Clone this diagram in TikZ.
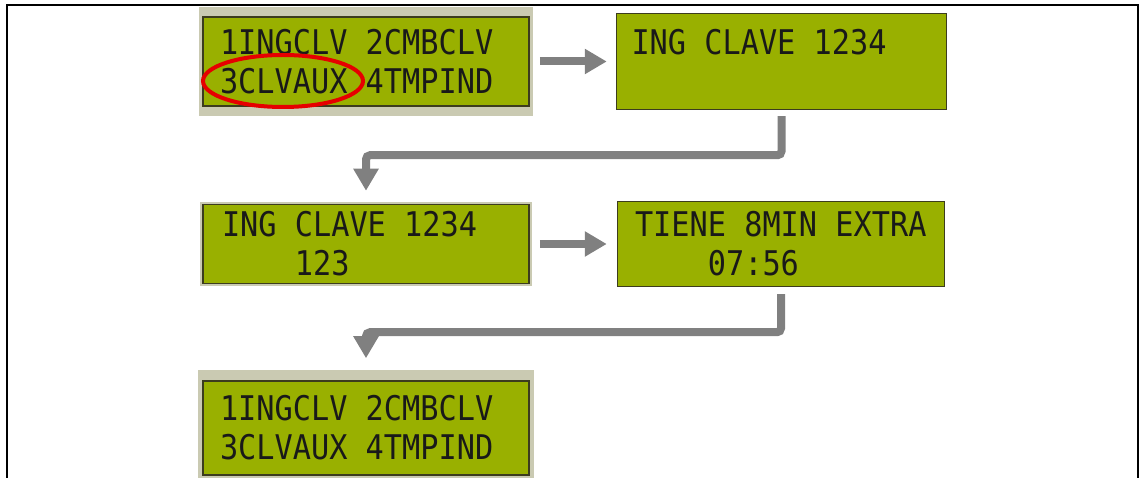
\documentclass[tikz,border=0pt]{standalone}
\usepackage{fontspec}
\newfontfamily\lcdfont[FakeStretch=0.89]{DejaVu Sans Mono}
\usetikzlibrary{shapes,arrows.meta,positioning,fit,backgrounds}
\definecolor{lcdgreen}{RGB}{153,176,0}
\definecolor{lcdedge}{RGB}{60,60,30}
\definecolor{bezelgray}{RGB}{202,202,178}
\definecolor{arrowgray}{RGB}{128,128,128}
\definecolor{markred}{RGB}{230,0,0}
\newcommand{\lcdsp}{\phantom{0}}

\begin{document}
\begin{tikzpicture}[
    x=1pt, y=1pt,
    lcd/.style={rectangle, draw=lcdedge, fill=lcdgreen, line width=1.5pt, text width=292pt, inner xsep=17pt, inner ysep=0pt, align=left, font=\lcdfont\fontsize{34}{39}\selectfont, text=black!90},
    bezel/.style={rectangle, fill=bezelgray, inner sep=0pt},
    circled/.style={ellipse, draw=markred, line width=4pt, inner sep=0pt},
    line/.style={draw=arrowgray, line width=8pt, -{Triangle[width=24pt, length=22pt]}}
]
\useasboundingbox (0,0) rectangle (1141,-478);
\draw [line width=2pt] (7,-485) -- (7,-5) -- (1138,-5) -- (1138,-485);

\node [lcd, minimum height=89pt] at (366,-61.5) (menu) {1INGCLV\lcdsp2CMBCLV\\3CLVAUX\lcdsp4TMPIND};
\node [lcd, minimum height=96pt, text width=300pt, inner xsep=15pt, right=86pt of menu] (clave) {ING\lcdsp CLAVE\lcdsp1234\\\lcdsp};
\node [lcd, minimum height=79pt, inner xsep=19pt, text width=288pt, below=97pt of menu] (clave123) {ING\lcdsp CLAVE\lcdsp1234\\\lcdsp\lcdsp\lcdsp\lcdsp123};
\node [lcd, minimum height=85pt, minimum width=327pt, right=87pt of clave123] (extra) {TIENE\lcdsp8MIN\lcdsp EXTRA\\\lcdsp\lcdsp\lcdsp\lcdsp07:56};
\node [lcd, minimum height=94pt, below=96pt of clave123] (menuback) {1INGCLV\lcdsp2CMBCLV\\3CLVAUX\lcdsp4TMPIND};

% bezels behind the displays
\begin{scope}[on background layer]
\node [bezel, fit=(menu), inner xsep=3pt, inner ysep=9pt] (menubez) {};
\node [bezel, fit=(clave123), inner sep=2pt] (clave123bez) {};
\node [bezel, fit=(menuback), inner xsep=4pt, inner ysep=10pt] (menubackbez) {};
\end{scope}

\node [circled, minimum width=160pt, minimum height=52pt] at (283,-81) (pick) {};

\path [line, shorten <=10pt, shorten >=9pt] (menu.east) -- (menu.east -| clave.west);
\path [line, rounded corners=4pt, shorten <=6pt] (clave.south) -- ++(0,-45) -| ([yshift=13pt]clave123.north);
\path [line, shorten <=10pt, shorten >=10pt] (clave123.east) -- (clave123.east -| extra.west);
\path [line, rounded corners=4pt, shorten <=7pt] (extra.south) -- ++(0,-45) -| ([yshift=22pt]menuback.north);

\end{tikzpicture}
\end{document}
